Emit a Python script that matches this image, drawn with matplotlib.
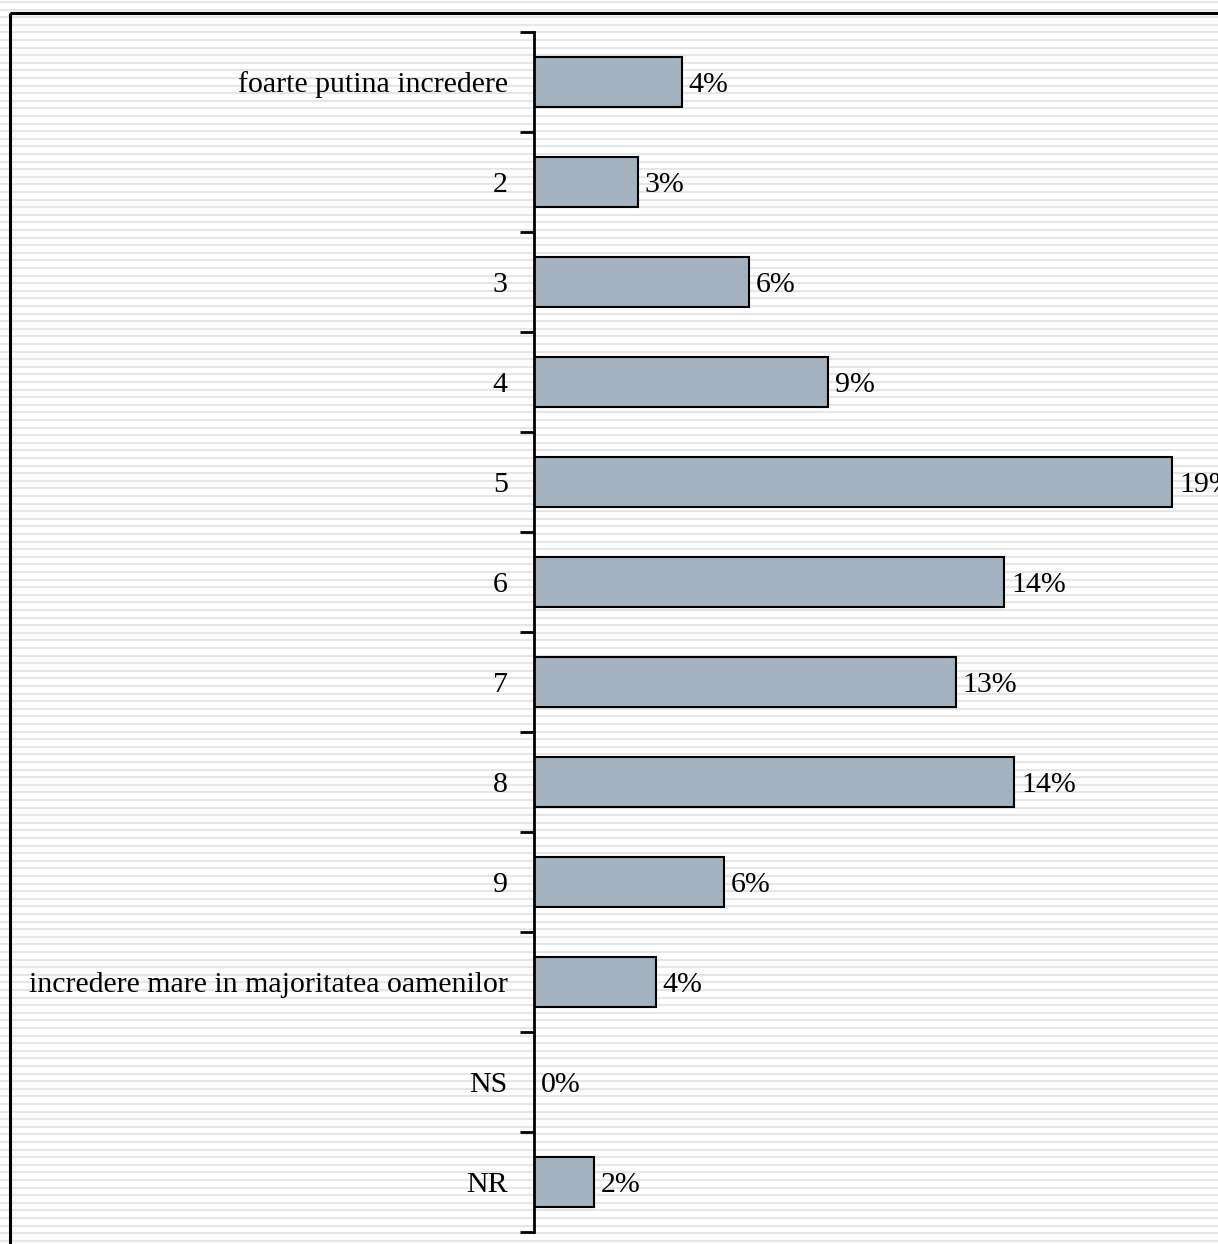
import numpy as np
import matplotlib.pyplot as plt
from matplotlib.patches import Rectangle

# data (percent of respondents)
categories = ["foarte putina incredere", "2", "3", "4", "5", "6", "7", "8", "9",
              "incredere mare in majoritatea oamenilor", "NS", "NR"]
values = [4.4, 3.1, 6.4, 8.75, 19.0, 14.0, 12.56, 14.3, 5.65, 3.63, 0.0, 1.79]
value_labels = ["4%", "3%", "6%", "9%", "19%", "14%", "13%", "14%", "6%", "4%", "0%", "2%"]

W, H = 1218, 1244
DPI = 100

plt.rcParams['font.family'] = ['Liberation Serif', 'DejaVu Serif']

fig = plt.figure(figsize=(W / DPI, H / DPI), dpi=DPI)
fig.patch.set_facecolor('white')

# striped background over the whole figure
bg = fig.add_axes([0, 0, 1, 1], zorder=-10)
bg.set_xlim(0, W)
bg.set_ylim(H, 0)
bg.axis('off')
for y in np.arange(2, H, 7.6):
    bg.axhline(y, color='#e6e6e6', lw=1.5, zorder=1)
# chart frame
bg.add_patch(Rectangle((10, 13), W + 20, H + 20, fill=False, ec='black', lw=2.2, zorder=5))

# bar chart axes
left, right, top, bottom = 534, 1218, 32, 1232
ax = fig.add_axes([left / W, (H - bottom) / H, (right - left) / W, (bottom - top) / H])
ax.patch.set_alpha(0)

y = np.arange(len(categories))
ax.barh(y, values, height=0.5, color='#a4b1bf', edgecolor='black', linewidth=1.5)
ax.set_ylim(len(categories) - 0.5, -0.5)
ax.set_xlim(0, (right - left) / 33.6)

for yi, v, lab in zip(y, values, value_labels):
    ax.text(v + 0.2, yi, lab, va='center_baseline', ha='left', fontsize=21.5)

ax.set_yticks(y)
ax.set_yticklabels(categories, fontsize=21.5, va='center_baseline')
ax.tick_params(axis='y', which='major', length=0, pad=19)
ax.set_yticks(np.arange(-0.5, len(categories)), minor=True)
ax.tick_params(axis='y', which='minor', length=10, width=2)
ax.set_xticks([])

for s in ['top', 'right', 'bottom']:
    ax.spines[s].set_visible(False)
ax.spines['left'].set_linewidth(2)

fig.savefig('out.png', dpi=DPI)
plt.close(fig)
